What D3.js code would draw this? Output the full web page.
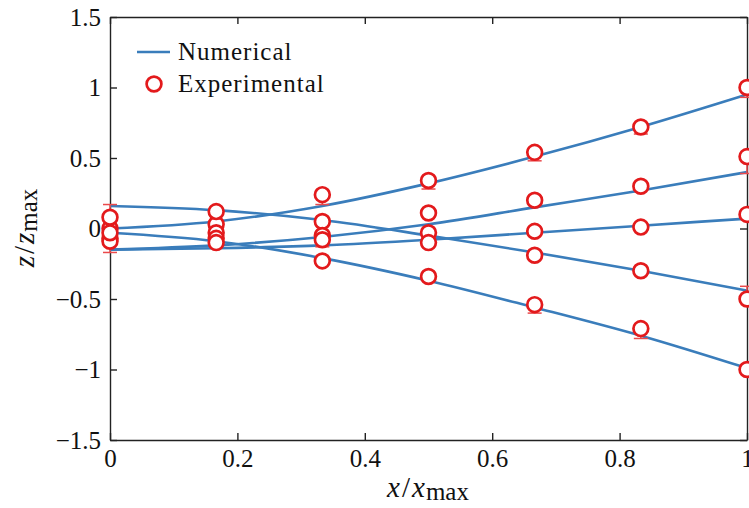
<!DOCTYPE html>
<html>
<head>
<meta charset="utf-8">
<script src="https://cdn.jsdelivr.net/npm/d3@7"></script>
<style>
  body { margin: 0; background: #fff; }
  svg text { font-family: "Liberation Serif", "Times New Roman", serif; }
</style>
</head>
<body>
<svg id="chart" width="749" height="508"></svg>
<script>
// stations along x / x_max
var xs = [0, 1/6, 1/3, 1/2, 2/3, 5/6, 1];

// numerical curves (z / z_max)
var numA = [0.00, 0.05, 0.16, 0.32, 0.51, 0.72, 0.95];
var numB = [-0.15, -0.12, -0.06, 0.03, 0.15, 0.27, 0.40];
var numC = [-0.15, -0.14, -0.12, -0.08, -0.03, 0.02, 0.07];
var numD = [0.16, 0.13, 0.06, -0.05, -0.17, -0.30, -0.44];
var numE = [-0.03, -0.09, -0.21, -0.37, -0.56, -0.76, -0.99];

// experimental points
var expA = [0.00, 0.03, 0.24, 0.34, 0.54, 0.72, 1.00];
var expB = [-0.07, -0.03, 0.05, 0.11, 0.20, 0.30, 0.51];
var expC = [-0.09, -0.07, -0.05, -0.03, -0.02, 0.01, 0.10];
var expD = [0.08, 0.12, -0.08, -0.10, -0.19, -0.30, -0.50];
var expE = [-0.03, -0.10, -0.23, -0.34, -0.54, -0.71, -1.00];

// error bars (lower / upper amounts)
var errLoA = [0.03, 0.03, 0.07, 0.06, 0.06, 0.05, 0.07];
var errHiA = [0.03, 0.03, 0.03, 0.03, 0.03, 0.03, 0.03];
var errLoB = [0.03, 0.03, 0.03, 0.03, 0.03, 0.03, 0.12];
var errHiB = [0.03, 0.03, 0.03, 0.03, 0.03, 0.03, 0.03];
var errLoC = [0.08, 0.03, 0.03, 0.03, 0.03, 0.03, 0.03];
var errHiC = [0.03, 0.03, 0.03, 0.03, 0.03, 0.03, 0.03];
var errLoD = [0.03, 0.03, 0.05, 0.03, 0.03, 0.03, 0.03];
var errHiD = [0.09, 0.03, 0.03, 0.03, 0.03, 0.03, 0.09];
var errLoE = [0.03, 0.03, 0.03, 0.03, 0.06, 0.07, 0.03];
var errHiE = [0.03, 0.03, 0.03, 0.03, 0.03, 0.03, 0.03];

var xTicks = [0, 0.2, 0.4, 0.6, 0.8, 1];
var yTicks = [-1.5, -1, -0.5, 0, 0.5, 1, 1.5];

var blue = "#3a7dbb";
var red = "#e31a1c";

var svg = d3.select("#chart");

var x = d3.scaleLinear().domain([0, 1]).range([110, 747]);
var y = d3.scaleLinear().domain([-1.5, 1.5]).range([440, 17]);

function fmt(d) {
    return d3.format("")(d).replace("-", "\u2212");
}

// axes, ticks pointing inward
var gx = svg.append("g")
    .attr("transform", "translate(0," + 440 + ")")
    .call(d3.axisBottom(x).tickValues(xTicks).tickFormat(fmt).tickSizeInner(-7).tickSizeOuter(0).tickPadding(6));
var gxt = svg.append("g")
    .attr("transform", "translate(0," + 17 + ")")
    .call(d3.axisTop(x).tickValues(xTicks).tickFormat("").tickSizeInner(-7).tickSizeOuter(0));
var gy = svg.append("g")
    .attr("transform", "translate(" + 110 + ",0)")
    .call(d3.axisLeft(y).tickValues(yTicks).tickFormat(fmt).tickSizeInner(-7).tickSizeOuter(0).tickPadding(9));
var gyr = svg.append("g")
    .attr("transform", "translate(" + 747 + ",0)")
    .call(d3.axisRight(y).tickValues(yTicks).tickFormat("").tickSizeInner(-7).tickSizeOuter(0));

[gx, gxt, gy, gyr].forEach(function(g) {
    g.selectAll("path, line").attr("stroke", "#222").attr("stroke-width", 1.4);
    g.selectAll("text")
        .attr("fill", "#111")
        .style("font-family", "Liberation Serif, serif")
        .style("font-size", "25px");
});
gx.selectAll("text").attr("dy", "0.85em");
gy.selectAll("text").attr("dy", "0.33em");

// numerical lines
var numSeries = [numA, numB, numC, numD, numE];
var line = d3.line()
    .x(function(d, i) { return x(xs[i]); })
    .y(function(d) { return y(d); })
    .curve(d3.curveMonotoneX);

var plots = svg.append("g");
numSeries.forEach(function(s) {
    plots.append("path")
        .attr("d", line(s))
        .attr("fill", "none")
        .attr("stroke", blue)
        .attr("stroke-width", 2.6);
});

// experimental points with error bars
var expSeries = [
    {v: expA, lo: errLoA, hi: errHiA},
    {v: expB, lo: errLoB, hi: errHiB},
    {v: expC, lo: errLoC, hi: errHiC},
    {v: expD, lo: errLoD, hi: errHiD},
    {v: expE, lo: errLoE, hi: errHiE}
];

var pts = [];
expSeries.forEach(function(s) {
    s.v.forEach(function(v, i) {
        pts.push({x: xs[i], v: v, lo: v - s.lo[i], hi: v + s.hi[i]});
    });
});

var eb = plots.append("g").attr("stroke", "#ea4a4c").attr("stroke-width", 1.5);
eb.selectAll(".bar").data(pts).join("line")
    .attr("x1", function(d) { return x(d.x); })
    .attr("x2", function(d) { return x(d.x); })
    .attr("y1", function(d) { return y(d.lo); })
    .attr("y2", function(d) { return y(d.hi); });
eb.selectAll(".caplo").data(pts).join("line").attr("class", "caplo")
    .attr("x1", function(d) { return x(d.x) - 7; })
    .attr("x2", function(d) { return x(d.x) + 7; })
    .attr("y1", function(d) { return y(d.lo); })
    .attr("y2", function(d) { return y(d.lo); });
eb.selectAll(".caphi").data(pts).join("line").attr("class", "caphi")
    .attr("x1", function(d) { return x(d.x) - 7; })
    .attr("x2", function(d) { return x(d.x) + 7; })
    .attr("y1", function(d) { return y(d.hi); })
    .attr("y2", function(d) { return y(d.hi); });

plots.append("g").selectAll("circle").data(pts).join("circle")
    .attr("cx", function(d) { return x(d.x); })
    .attr("cy", function(d) { return y(d.v); })
    .attr("r", 7.4)
    .attr("fill", "#fff")
    .attr("stroke", red)
    .attr("stroke-width", 2.7);

// legend
var lg = svg.append("g");
lg.append("line")
    .attr("x1", 137).attr("x2", 170).attr("y1", 52).attr("y2", 52)
    .attr("stroke", blue).attr("stroke-width", 2.6);
lg.append("text").attr("x", 178).attr("y", 60)
    .style("font-size", "25px").style("letter-spacing", "1px").attr("fill", "#111")
    .text("Numerical");
lg.append("circle").attr("cx", 154).attr("cy", 84).attr("r", 7.4)
    .attr("fill", "#fff").attr("stroke", red).attr("stroke-width", 2.7);
lg.append("text").attr("x", 178).attr("y", 92)
    .style("font-size", "25px").style("letter-spacing", "1px").attr("fill", "#111")
    .text("Experimental");

// axis labels
var xl = svg.append("text")
    .attr("x", 428).attr("y", 497)
    .attr("text-anchor", "middle")
    .attr("fill", "#111")
    .style("font-size", "29px");
xl.append("tspan").style("font-style", "italic").text("x");
xl.append("tspan").attr("dx", 2).text("/");
xl.append("tspan").attr("dx", 2).style("font-style", "italic").text("x");
xl.append("tspan").attr("dy", 3).attr("dx", 1).style("font-size", "25px").text("max");

var yl = svg.append("text")
    .attr("transform", "translate(34,228) rotate(-90)")
    .attr("text-anchor", "middle")
    .attr("fill", "#111")
    .style("font-size", "29px");
yl.append("tspan").style("font-style", "italic").text("z");
yl.append("tspan").attr("dx", 2).text("/");
yl.append("tspan").attr("dx", 2).style("font-style", "italic").text("z");
yl.append("tspan").attr("dy", 3).attr("dx", 1).style("font-size", "25px").text("max");
</script>
</body>
</html>
